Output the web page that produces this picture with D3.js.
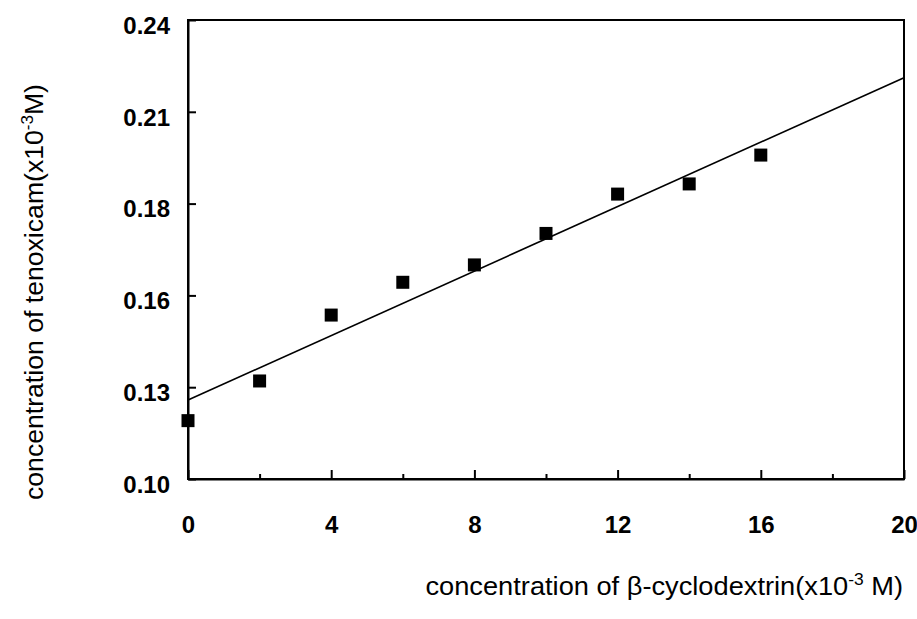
<!DOCTYPE html>
<html lang="en">
<head>
    <meta charset="UTF-8">
    <title>Tenoxicam vs beta-cyclodextrin</title>
    <script src="https://d3js.org/d3.v7.min.js"></script>
    <style>
        body { margin: 0; background: #fff; font-family: "Liberation Sans", Arial, sans-serif; }
        .tick text { font-size: 24px; font-weight: bold; fill: #000; }
        .domain, .tick line { stroke: #000; stroke-width: 2; }
        .axis-title { font-size: 25px; fill: #000; }
    </style>
</head>
<body>
    <svg width="917" height="619"></svg>
    <script>
        // beta-cyclodextrin (x10^-3 M)
        const cdConc = [0, 2, 4, 6, 8, 10, 12, 14, 16];
        // tenoxicam (x10^-3 M)
        const tenoxConc = [0.1178, 0.1299, 0.1500, 0.1600, 0.1653, 0.1749, 0.1869, 0.1900, 0.1988];

        // fitted line ends
        const fitX = [0, 20];
        const fitY = [0.1241, 0.2224];

        const xMajor = [0, 4, 8, 12, 16, 20];
        const xMinor = [2, 6, 10, 14, 18];
        const yTicks = [0.10, 0.128, 0.156, 0.184, 0.212, 0.24];
        const yLabels = ["0.10", "0.13", "0.16", "0.18", "0.21", "0.24"];

        const svg = d3.select("svg");
        const margin = { top: 20, right: 13, bottom: 140, left: 188 };
        const width = +svg.attr("width") - margin.left - margin.right;
        const height = +svg.attr("height") - margin.top - margin.bottom;
        const g = svg.append("g").attr("transform", `translate(${margin.left},${margin.top})`);

        const x = d3.scaleLinear().domain([0, 20]).range([0, width]);
        const y = d3.scaleLinear().domain([0.10, 0.24]).range([height, 0]);

        // frame
        g.append("rect")
            .attr("width", width).attr("height", height)
            .attr("fill", "none").attr("stroke", "#000").attr("stroke-width", 2);

        // minor x ticks
        g.append("g")
            .attr("transform", `translate(0,${height})`)
            .call(d3.axisBottom(x).tickValues(xMinor).tickSize(-5).tickFormat(""))
            .call(a => a.select(".domain").remove());

        g.append("g")
            .attr("transform", `translate(0,${height})`)
            .call(d3.axisBottom(x).tickValues(xMajor).tickSizeInner(-9).tickSizeOuter(0).tickPadding(37));

        g.append("g")
            .call(d3.axisLeft(y).tickValues(yTicks).tickSizeInner(-8).tickSizeOuter(0)
                .tickPadding(18).tickFormat((d, i) => yLabels[i]))
            .call(a => a.selectAll("text").attr("dy", "0.55em"));

        // regression line
        g.append("line")
            .attr("x1", x(fitX[0])).attr("y1", y(fitY[0]))
            .attr("x2", x(fitX[1])).attr("y2", y(fitY[1]))
            .attr("stroke", "#000").attr("stroke-width", 1.6);

        const s = 13;
        g.selectAll(".pt")
            .data(cdConc)
            .enter()
            .append("rect")
            .attr("class", "pt")
            .attr("x", (d) => x(d) - s / 2)
            .attr("y", (d, i) => y(tenoxConc[i]) - s / 2)
            .attr("width", s).attr("height", s)
            .attr("fill", "#000");

        // axis titles (scan font is wider than Arial, so stretch a bit)
        const xt = svg.append("text").attr("class", "axis-title")
            .attr("transform", "translate(903,595) scale(1.09,1)").attr("text-anchor", "end");
        xt.append("tspan").text("concentration of β-cyclodextrin(x10");
        xt.append("tspan").attr("font-size", "16px").attr("dy", -10).text("-3");
        xt.append("tspan").attr("dy", 10).text(" M)");

        const yt = svg.append("text").attr("class", "axis-title")
            .attr("transform", "translate(43,292) rotate(-90) scale(1.065,1)").attr("text-anchor", "middle");
        yt.append("tspan").text("concentration of tenoxicam(x10");
        yt.append("tspan").attr("font-size", "16px").attr("dy", -10).text("-3");
        yt.append("tspan").attr("dy", 10).text("M)");
    </script>
</body>
</html>
